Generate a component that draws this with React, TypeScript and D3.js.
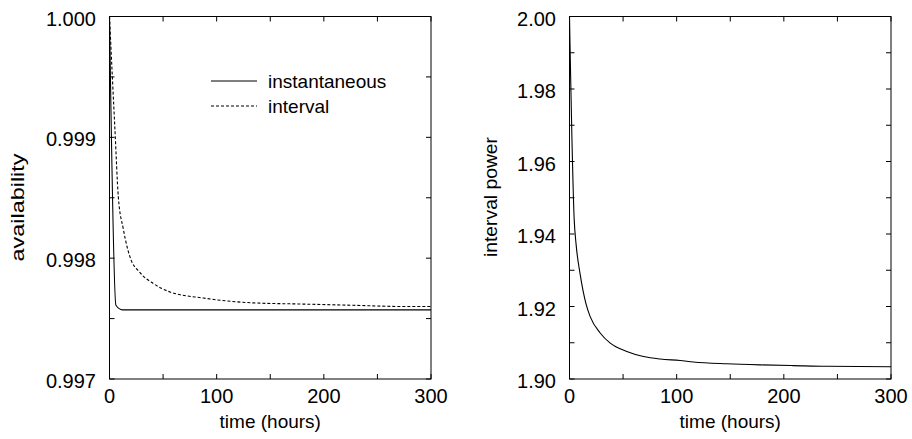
import React from "react";
import * as d3 from "d3";

// ---- data ----
const instTime = [0, 6, 12, 300];
const instAvail = [1.0, 0.99761, 0.997572, 0.997572];

const intTime = [0, 2.6, 5.1, 8.2, 12.9, 19.1, 28.5, 40.9, 56.5, 87.5, 134.2, 180.8, 227.5, 274.1, 300];
const intAvail = [1.0, 0.99951, 0.99906, 0.99851, 0.99824, 0.99801, 0.99788, 0.99779, 0.99772, 0.99767, 0.99763, 0.99762, 0.99761, 0.9976, 0.9976];

const powTime = [0, 4.4, 6.2, 10.0, 15.6, 19.3, 28.6, 38.0, 53.5, 69.0, 84.6, 103.2, 115.6, 146.8, 177.8, 208.9, 240.0, 300];
const powValue = [2.0, 1.9439, 1.937, 1.9288, 1.9205, 1.9172, 1.9127, 1.9099, 1.9076, 1.9062, 1.9055, 1.9051, 1.9047, 1.9042, 1.9039, 1.9037, 1.9035, 1.9034];

const xTicks = [0, 50, 100, 150, 200, 250, 300];
const xLabels = [0, 100, 200, 300];
const availTicks = [0.997, 0.9975, 0.998, 0.9985, 0.999, 0.9995, 1.0];
const availLabels = [0.997, 0.998, 0.999, 1.0];
const powTicks = [1.9, 1.91, 1.92, 1.93, 1.94, 1.95, 1.96, 1.97, 1.98, 1.99, 2.0];
const powLabels = [1.9, 1.92, 1.94, 1.96, 1.98, 2.0];
const legendNames = ["instantaneous", "interval"];

const FONT = "'Liberation Sans', Arial, Helvetica, sans-serif";
const TICK = 5;

type Series = { t: number[]; v: number[]; dash?: string };

function Panel(props: {
  left: number; right: number; top: number; bottom: number;
  yDomain: [number, number]; yTicks: number[]; yLabels: number[]; yFmt: (v: number) => string;
  yTitle: string; yTitleX: number; yTitleY: number; yTitleLen: number;
  series: Series[]; legend?: boolean;
}) {
  const { left, right, top, bottom } = props;
  const x = d3.scaleLinear().domain([0, 300]).range([left, right]);
  const y = d3.scaleLinear().domain(props.yDomain).range([bottom, top]);
  const line = d3.line<number>().curve(d3.curveMonotoneX);
  return (
    <g>
      {xTicks.map((t) => (
        <g key={"xt" + t}>
          <line x1={x(t)} x2={x(t)} y1={bottom} y2={bottom - TICK} stroke="#000" />
          <line x1={x(t)} x2={x(t)} y1={top} y2={top + TICK} stroke="#000" />
        </g>
      ))}
      {props.yTicks.map((v) => (
        <g key={"yt" + v}>
          <line x1={left} x2={left + TICK} y1={y(v)} y2={y(v)} stroke="#000" />
          <line x1={right} x2={right - TICK} y1={y(v)} y2={y(v)} stroke="#000" />
        </g>
      ))}
      {xLabels.map((t) => (
        <text key={"xl" + t} x={x(t)} y={bottom + 24} textAnchor="middle" fontSize={20} fontFamily={FONT}>{t}</text>
      ))}
      {props.yLabels.map((v) => (
        <text key={"yl" + v} x={left - 13.5} y={y(v) + 9} textAnchor="end" fontSize={20} fontFamily={FONT}>{props.yFmt(v)}</text>
      ))}
      <text x={(left + right) / 2} y={bottom + 48.5} textAnchor="middle" fontSize={19} fontFamily={FONT}>time (hours)</text>
      <text
        transform={`translate(${props.yTitleX},${props.yTitleY}) rotate(-90)`}
        textAnchor="middle" fontSize={19} fontFamily={FONT}
        textLength={props.yTitleLen} lengthAdjust="spacingAndGlyphs"
      >{props.yTitle}</text>
      {props.series.map((s, i) => (
        <path key={"s" + i}
          d={line.x((_, k) => x(s.t[k])).y((d) => y(d))(s.v) || ""}
          fill="none" stroke="#000" strokeWidth={1.1} strokeDasharray={s.dash} />
      ))}
      {props.legend && legendNames.map((n, i) => (
        <g key={"lg" + i}>
          <line x1={211} x2={257} y1={81 + i * 25} y2={81 + i * 25} stroke="#000" strokeWidth={1.1}
            strokeDasharray={props.series[i].dash} />
          <text x={268} y={88 + i * 25} fontSize={19} fontFamily={FONT}>{n}</text>
        </g>
      ))}
      <rect x={left} y={top} width={right - left} height={bottom - top} fill="none" stroke="#000" />
    </g>
  );
}

export default function App() {
  return (
    <svg width={912} height={439} style={{ position: "absolute", left: 0, top: 0, background: "#fff" }}>
      <rect width={912} height={439} fill="#fff" />
      <Panel left={109.5} right={431} top={16.5} bottom={379}
        yDomain={[0.997, 1.0]} yTicks={availTicks} yLabels={availLabels} yFmt={(v) => v.toFixed(3)}
        yTitle="availability" yTitleX={23.5} yTitleY={207.5} yTitleLen={108}
        series={[{ t: instTime, v: instAvail }, { t: intTime, v: intAvail, dash: "3,2" }]} legend />
      <Panel left={569.5} right={891} top={16.5} bottom={379}
        yDomain={[1.9, 2.0]} yTicks={powTicks} yLabels={powLabels} yFmt={(v) => v.toFixed(2)}
        yTitle="interval power" yTitleX={496.5} yTitleY={197} yTitleLen={120}
        series={[{ t: powTime, v: powValue }]} />
    </svg>
  );
}
